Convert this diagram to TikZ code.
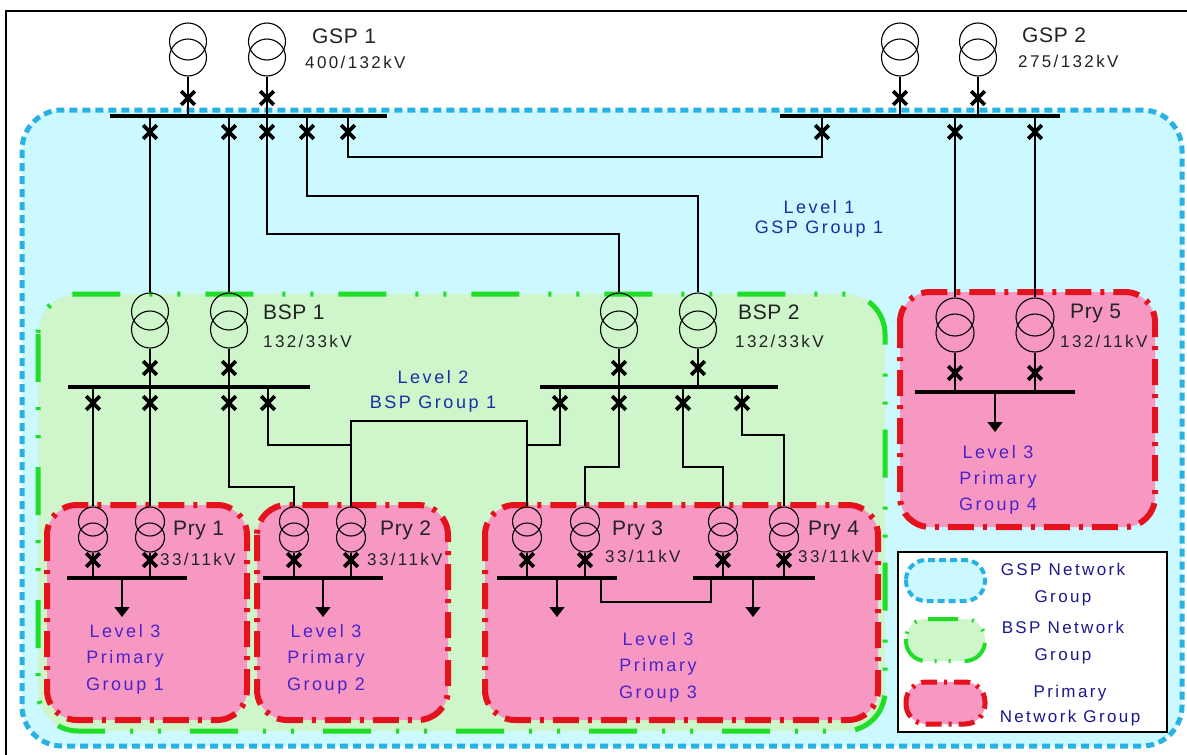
\documentclass[tikz,border=0pt]{standalone}
\usepackage{fontspec}
\setmainfont{Liberation Sans}
\newfontfamily\lbfont{Liberation Sans}[LetterSpace=14]
\newfontfamily\nmfont{Liberation Sans}[LetterSpace=3]
\usetikzlibrary{shapes.misc,arrows.meta}
\definecolor{cyfill}{RGB}{204,249,255}
\definecolor{cyline}{RGB}{40,178,228}
\definecolor{grfill}{RGB}{206,246,202}
\definecolor{grline}{RGB}{30,222,40}
\definecolor{pkfill}{RGB}{246,152,194}
\definecolor{rdline}{RGB}{228,18,28}
\definecolor{lvblue}{RGB}{25,45,165}
\definecolor{lvpurple}{RGB}{75,35,200}
\definecolor{lgblue}{RGB}{25,25,140}
\definecolor{txgray}{RGB}{35,35,35}
\newcommand\xfmr[5]{%
  \node[xc,minimum size=#4*2pt] (#1a) at (#2,#3) {};
  \node[xc,minimum size=#4*2pt] (#1b) at (#2,#3+#5) {};}
\begin{document}
\begin{tikzpicture}[x=1pt,y=-1pt,
  gspgroup/.style={fill=cyfill,draw=cyline,line width=5pt,dash pattern=on 8pt off 5pt,rounded corners=40pt},
  bspgroup/.style={fill=grfill,draw=grline,line width=5pt,dash pattern=on 48pt off 25pt on 3pt off 25pt on 3pt off 29pt,rounded corners=40pt},
  prygroup/.style={fill=pkfill,draw=rdline,line width=6pt,dash pattern=on 26pt off 9pt on 4pt off 9pt,rounded corners=30pt},
  wire/.style={line width=1.4pt,black},
  bus/.style={fill=black,inner sep=0pt,minimum height=3.6pt},
  brk/.style={cross out,draw,line width=3.6pt,minimum size=10pt,inner sep=0pt},
  xc/.style={circle,draw,line width=1.1pt,inner sep=0pt},
  load/.style={wire,-{Triangle[width=15pt,length=10pt]}},
  nm/.style={font={\nmfont\fontsize{21}{24}\selectfont},text=txgray,inner sep=0pt,anchor=base west},
  vl/.style={font={\lbfont\fontsize{17}{20}\selectfont},text=txgray,inner sep=0pt,anchor=base west},
  lvl/.style={font={\lbfont\fontsize{18}{#1}\selectfont},text=lvblue,inner sep=0pt,anchor=base,align=center},
  lvp/.style={font={\lbfont\fontsize{18}{#1}\selectfont},text=lvpurple,inner sep=0pt,anchor=base,align=center},
  lgd/.style={font={\lbfont\fontsize{17}{#1}\selectfont},text=lgblue,inner sep=0pt,anchor=base,align=center}]
\useasboundingbox (0,0) rectangle (1187,755);
\fill[white] (0,0) rectangle (1187,755);
\draw[line width=1.6pt] (6,755) -- (6,11) -- (1187,11);

% network groups
\draw[gspgroup] (22,110) rectangle (1182,746);
\draw[bspgroup] (38,294) rectangle (885,731);
\draw[prygroup] (47,505) rectangle (247,720);
\draw[prygroup] (257,505) rectangle (448,720);
\draw[prygroup] (485,505) rectangle (878,720);
\draw[prygroup] (900,292) rectangle (1155,527);

% legend
\draw[line width=1.6pt,fill=white] (898,552) rectangle (1167,732);
\draw[gspgroup,line width=4pt,rounded corners=20pt,dash pattern=on 7pt off 4pt] (906,560) rectangle (985,601);
\draw[bspgroup,line width=4pt,rounded corners=20pt,dash pattern=on 30pt off 12pt on 2pt off 12pt on 2pt off 14pt] (906,619) rectangle (985,661);
\draw[prygroup,line width=5pt,rounded corners=20pt,dash pattern=on 16pt off 7pt on 3pt off 7pt] (906,682) rectangle (985,724);
\node[lgd=27] (lg1) at (1063,602) {GSP Network\\Group};
\node[lgd=27] (lg2) at (1063,660) {BSP Network\\Group};
\node[lgd=25] (lg3) at (1070,722) {Primary\\Network Group};

% transformers
\xfmr{GA}{188}{41.5}{18.5}{16}
\xfmr{GB}{267}{41.5}{18.5}{16}
\xfmr{HA}{900}{41.5}{18.5}{16}
\xfmr{HB}{978}{41.5}{18.5}{16}
\xfmr{BA}{150}{311.5}{18.5}{18}
\xfmr{BB}{229}{311.5}{18.5}{18}
\xfmr{CA}{619}{311.5}{18.5}{18}
\xfmr{CB}{698}{311.5}{18.5}{18}
\xfmr{PA}{955}{317}{19}{16}
\xfmr{PB}{1035}{317}{19}{16}
\xfmr{QA}{93}{521.5}{14.5}{16}
\xfmr{QB}{150}{521.5}{14.5}{16}
\xfmr{QC}{294}{521.5}{14.5}{16}
\xfmr{QD}{351}{521.5}{14.5}{16}
\xfmr{QE}{527}{521.5}{14.5}{16}
\xfmr{QF}{585}{521.5}{14.5}{16}
\xfmr{QG}{723}{521.5}{14.5}{16}
\xfmr{QH}{784}{521.5}{14.5}{16}

% busbars
\node[bus,minimum width=277pt] (gbus) at (248.5,116) {};
\node[bus,minimum width=280pt] (hbus) at (920,116) {};
\node[bus,minimum width=242pt] (bbus) at (189,387) {};
\node[bus,minimum width=238pt] (cbus) at (659,387) {};
\node[bus,minimum width=160pt] (pbus) at (995,392) {};
\node[bus,minimum width=120pt] (q1bus) at (127,578) {};
\node[bus,minimum width=120pt] (q2bus) at (323,578) {};
\node[bus,minimum width=120pt] (q3bus) at (557,578) {};
\node[bus,minimum width=122pt] (q4bus) at (754,578) {};

% transformer secondary connections
\foreach \t/\b in {GA/gbus,GB/gbus,HA/hbus,HB/hbus,BA/bbus,BB/bbus,CA/cbus,CB/cbus,PA/pbus,PB/pbus,QA/q1bus,QB/q1bus,QC/q2bus,QD/q2bus,QE/q3bus,QF/q3bus,QG/q4bus,QH/q4bus}
  \draw[wire] (\t b.south) -- (\t b.south |- \b);
\foreach \x/\y [count=\i] in {188/98,267/98,900/98,978/98,150/368,229/368,619/368,698/368,955/373,1035/373,93/560,150/560,294/560,351/560,527/560,585/560,723/560,784/560}
  \node[brk] (tk\i) at (\x,\y) {};

% feeder breakers
\node[brk] (gf1) at (150,132) {};
\node[brk] (gf2) at (229,132) {};
\node[brk] (gf3) at (267,132) {};
\node[brk] (gf4) at (307,132) {};
\node[brk] (gf5) at (348,132) {};
\node[brk] (hf1) at (822,132) {};
\node[brk] (hf2) at (955,132) {};
\node[brk] (hf3) at (1035,132) {};
\node[brk] (bf1) at (93,403) {};
\node[brk] (bf2) at (150,403) {};
\node[brk] (bf3) at (229,403) {};
\node[brk] (bf4) at (268,403) {};
\node[brk] (cf1) at (560,403) {};
\node[brk] (cf2) at (619,403) {};
\node[brk] (cf3) at (683,403) {};
\node[brk] (cf4) at (742,403) {};

% level 1 circuits
\draw[wire] (gf1 |- gbus) -- (BAa.north);
\draw[wire] (gf2 |- gbus) -- (BBa.north);
\draw[wire] (gf3 |- gbus) -- (gf3 |- 0,234) -| (CAa.north);
\draw[wire] (gf4 |- gbus) -- (gf4 |- 0,196) -| (CBa.north);
\draw[wire] (gf5 |- gbus) -- (gf5 |- 0,157) -| (hf1 |- hbus);
\draw[wire] (hf2 |- hbus) -- (PAa.north);
\draw[wire] (hf3 |- hbus) -- (PBa.north);

% level 2 circuits
\draw[wire] (bf1 |- bbus) -- (QAa.north);
\draw[wire] (bf2 |- bbus) -- (QBa.north);
\draw[wire] (bf3 |- bbus) -- (bf3 |- 0,487) -| (QCa.north);
\draw[wire] (bf4 |- bbus) -- (bf4 |- 0,445) -- (QDa.north |- 0,445);
\draw[wire] (QDa.north) -- (QDa.north |- 0,421) -| (QEa.north);
\draw[wire] (cf1 |- cbus) -- (cf1 |- 0,445) -- (QEa.north |- 0,445);
\draw[wire] (cf2 |- cbus) -- (cf2 |- 0,467) -| (QFa.north);
\draw[wire] (cf3 |- cbus) -- (cf3 |- 0,467) -| (QGa.north);
\draw[wire] (cf4 |- cbus) -- (cf4 |- 0,435) -| (QHa.north);

% primary tie and loads
\draw[wire] (601,0 |- q3bus) -- (601,602) -| (711,0 |- q4bus);
\coordinate (ld1) at (122,617);
\coordinate (ld2) at (323,617);
\coordinate (ld3) at (557,617);
\coordinate (ld4) at (753,617);
\coordinate (ld5) at (995,432);
\draw[load] (ld1 |- q1bus) -- (ld1);
\draw[load] (ld2 |- q2bus) -- (ld2);
\draw[load] (ld3 |- q3bus) -- (ld3);
\draw[load] (ld4 |- q4bus) -- (ld4);
\draw[load] (ld5 |- pbus) -- (ld5);

% station labels
\node[nm] (n1) at (312,43) {GSP 1};
\node[vl] (v1) at (305,68) {400/132kV};
\node[nm] (n2) at (1022,42) {GSP 2};
\node[vl] (v2) at (1018,67) {275/132kV};
\node[nm] (n3) at (263,319) {BSP 1};
\node[vl] (v3) at (263,347) {132/33kV};
\node[nm] (n4) at (738,319) {BSP 2};
\node[vl] (v4) at (735,347) {132/33kV};
\node[nm] (n5) at (1070,318) {Pry 5};
\node[vl] (v5) at (1060,347) {132/11kV};
\node[nm] (n6) at (173,535) {Pry 1};
\node[vl] (v6) at (160,565) {33/11kV};
\node[nm] (n7) at (380,535) {Pry 2};
\node[vl] (v7) at (367,565) {33/11kV};
\node[nm] (n8) at (612,535) {Pry 3};
\node[vl] (v8) at (605,562) {33/11kV};
\node[nm] (n9) at (808,535) {Pry 4};
\node[vl] (v9) at (798,562) {33/11kV};

% group labels (anchor = baseline of the last line)
\node[lvl=20] (lv1) at (819,233) {Level 1\\GSP Group 1};
\node[lvl=25] (lv2) at (433,408) {Level 2\\BSP Group 1};
\node[lvp=26.5] (lv3) at (125,690) {Level 3\\Primary\\Group 1};
\node[lvp=26.5] (lv4) at (326,690) {Level 3\\Primary\\Group 2};
\node[lvp=26.5] (lv5) at (658,698) {Level 3\\Primary\\Group 3};
\node[lvp=26] (lv6) at (998,510) {Level 3\\Primary\\Group 4};
\end{tikzpicture}
\end{document}
